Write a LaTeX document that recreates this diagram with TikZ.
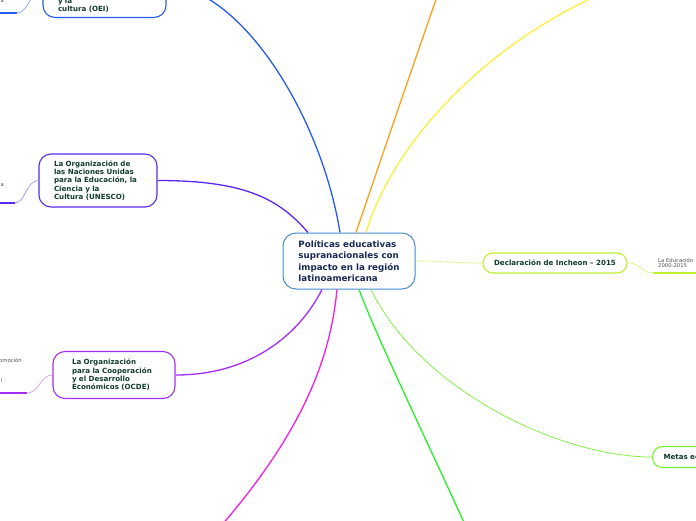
\documentclass[tikz,border=0pt]{standalone}
\usepackage{fontspec}
\setmainfont{DejaVu Sans}
\usetikzlibrary{positioning}

\definecolor{rootline}{RGB}{70,140,210}
\definecolor{roottext}{RGB}{25,40,85}
\definecolor{topictext}{RGB}{15,60,45}
\definecolor{subtext}{RGB}{80,80,80}
\definecolor{oeiblue}{RGB}{40,90,240}
\definecolor{oeilight}{RGB}{130,160,245}
\definecolor{uneviolet}{RGB}{90,40,235}
\definecolor{unelight}{RGB}{165,145,245}
\definecolor{ocdepurple}{RGB}{165,45,240}
\definecolor{ocdelight}{RGB}{215,160,245}
\definecolor{magline}{RGB}{245,30,225}
\definecolor{greenline}{RGB}{40,240,40}
\definecolor{metasgreen}{RGB}{120,240,50}
\definecolor{inchgreen}{RGB}{190,240,50}
\definecolor{inchlight}{RGB}{215,245,140}
\definecolor{yelline}{RGB}{250,240,60}
\definecolor{oraline}{RGB}{250,160,30}

\begin{document}
\begin{tikzpicture}[x=1pt, y=-1pt,
  root/.style={draw=rootline, line width=1pt, rounded corners=13pt, fill=white,
               align=left, text=roottext, font=\bfseries\fontsize{8.7}{11.2}\selectfont,
               minimum width=132pt, minimum height=56pt},
  topic/.style={draw, line width=1.1pt, rounded corners=12pt, fill=white,
                align=left, text=topictext, font=\bfseries\fontsize{7.1}{8.4}\selectfont,
                inner xsep=0pt},
  sub/.style={font=\fontsize{5.3}{5.6}\selectfont, text=subtext, align=left, inner sep=0pt},
  link/.style={line width=1.3pt},
  twig/.style={line width=0.7pt},
  uline/.style={line width=1.8pt}
]
  \useasboundingbox (0,0) rectangle (696,520);
  \clip (0,0) rectangle (696,520);
  \fill[white] (0,0) rectangle (696,520);

  % Central topic
  \node[root] (pol) at (349,261) {Políticas educativas\\supranacionales con\\impacto en la región\\latinoamericana};

  % Left topics
  \node[topic, draw=oeiblue, text width=93pt, minimum width=123pt, text height=44pt,
        inner ysep=5pt, anchor=south] (oei) at (104.5,18) {y la\\cultura (OEI)};
  \node[topic, draw=uneviolet, text width=88pt, minimum width=118pt, minimum height=53pt]
        (unesco) at (98,180.5) {La Organización de\\las Naciones Unidas\\para la Educación, la\\Ciencia y la\\Cultura (UNESCO)};
  \node[topic, draw=ocdepurple, text width=84pt, minimum width=122pt, minimum height=47pt]
        (ocde) at (114,375) {La Organización\\para la Cooperación\\y el Desarrollo\\Económicos (OCDE)};

  % Right topics
  \node[topic, draw=inchgreen, rounded corners=10pt, minimum width=144pt, minimum height=20pt]
        (inch) at (555,263) {Declaración de Incheon – 2015};
  \node[topic, draw=metasgreen, rounded corners=10pt, text width=80pt, inner xsep=11pt,
        minimum height=21pt, anchor=west] (metas) at (652,457) {Metas ed};

  % Subtopics
  \node[sub, anchor=base west] (oeisub) at (-1,2.6) {la};
  \node[sub, anchor=base west] (unesub) at (-1,186) {la};
  \node[sub, anchor=base west] (ocdesubA) at (-1,362) {omoción};
  \node[sub, anchor=base west] (ocdesubB) at (0.6,382) {l};
  \node[sub, anchor=north west] (edusub) at (658,257.7) {La Educación\\2000-2015};

  \coordinate (oeiA) at (-10,13);
  \coordinate (oeiB) at (17,13);
  \coordinate (uneA) at (-10,203);
  \coordinate (uneB) at (15,203);
  \coordinate (ocdeA) at (-10,393);
  \coordinate (ocdeB) at (27,393);
  \coordinate (eduA) at (653,273);
  \coordinate (eduB) at (710,273);

  % Branches leaving the canvas
  \coordinate (oraend) at (450,-40);
  \coordinate (yelend) at (670,-30);
  \coordinate (magend) at (150,600);
  \coordinate (grnend) at (490,580);

  % Connectors
  \draw[link, oeiblue] ([xshift=-9pt]pol.north) .. controls +(-20,-123) and +(70,0) .. (oei.east);
  \draw[link, uneviolet] (unesco.east) .. controls +(85,0) and +(-30,-35) .. ([xshift=-41pt]pol.north);
  \draw[link, ocdepurple] ([xshift=-27pt]pol.south) .. controls +(-20,40) and +(80,0) .. (ocde.east);
  \draw[link, oraline] ([xshift=7pt]pol.north) .. controls (380,162) and (425,30) .. (oraend);
  \draw[link, yelline] ([xshift=17pt]pol.north) .. controls (400,120) and (530,5) .. (yelend);
  \draw[link, magline] ([xshift=-12pt]pol.south) .. controls (330,360) and (302,455) .. (magend);
  \draw[link, greenline] ([xshift=10pt]pol.south) .. controls (382,350) and (432,450) .. (grnend);
  \draw[twig, metasgreen] ([xshift=22pt]pol.south) .. controls (420,390) and (560,457) .. (metas.west);
  \draw[twig, inchlight] (pol.east) .. controls +(35,0) and +(-35,0) .. (inch.west);

  % Subtopic lines
  \draw[uline, oeiblue] (oeiA) -- (oeiB);
  \draw[twig, oeilight] (oeiB) .. controls +(12,0) and +(-10,0) .. (oei.west);
  \draw[uline, uneviolet] (uneA) -- (uneB);
  \draw[twig, unelight] (uneB) .. controls +(10,0) and +(-12,0) .. (unesco.west);
  \draw[uline, ocdepurple] (ocdeA) -- (ocdeB);
  \draw[twig, ocdelight] (ocdeB) .. controls +(12,0) and +(-12,0) .. (ocde.west);
  \draw[uline, inchgreen] (eduA) -- (eduB);
  \draw[twig, inchlight] (inch.east) .. controls +(14,0) and +(-12,0) .. (eduA);
\end{tikzpicture}
\end{document}
